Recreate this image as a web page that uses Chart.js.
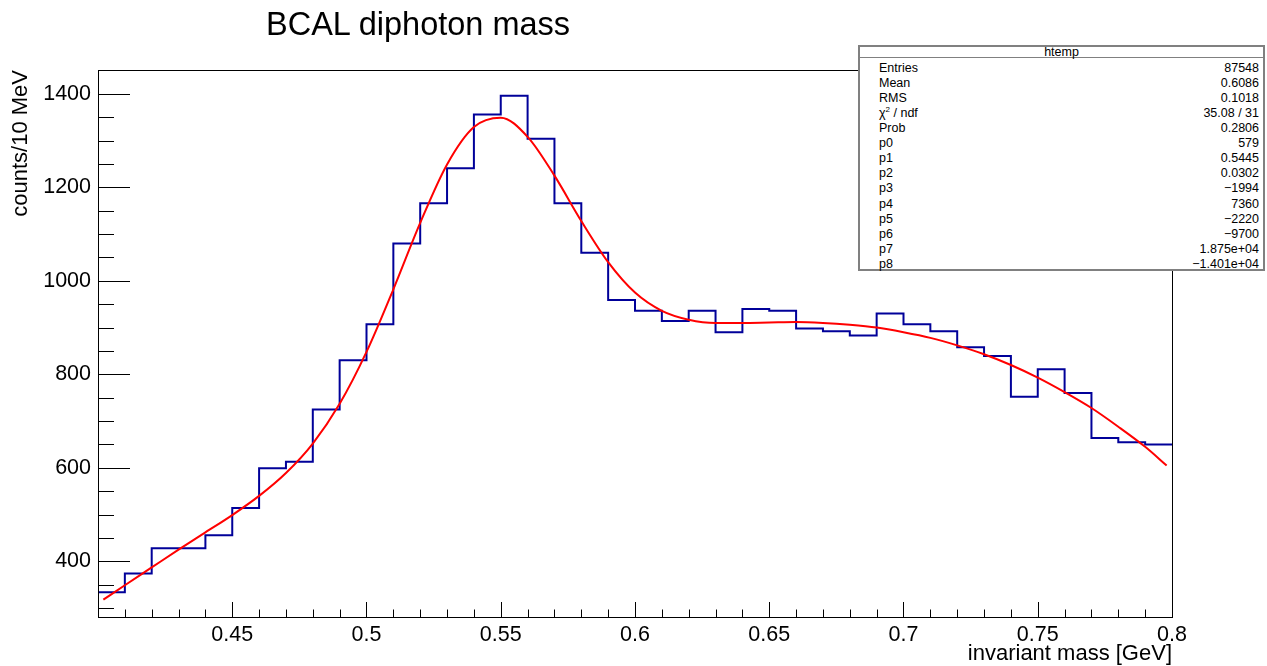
<!DOCTYPE html>
<html lang="en">
<head>
    <meta charset="UTF-8">
    <title>BCAL diphoton mass</title>
    <script src="https://cdn.jsdelivr.net/npm/chart.js"></script>
    <style>
        html, body { margin: 0; padding: 0; background: #fff; }
        body {
            position: relative; width: 1267px; height: 666px; overflow: hidden;
            font-family: 'Liberation Sans', Arial, Helvetica, sans-serif; color: #000;
        }
        #plot { position: absolute; left: 0; top: 0; }
        #title {
            position: absolute; left: 266px; top: 6px;
            font-size: 32.5px; line-height: 36px; white-space: nowrap;
        }
        #stats {
            position: absolute; left: 858px; top: 45px; width: 403px; height: 222px;
            background: #fff; border: 2px solid #808080; font-size: 12.5px;
        }
        #stats .head {
            height: 10px; line-height: 10px; text-align: center;
            border-bottom: 1px solid #808080; margin-bottom: 2.7px;
        }
        #stats .row {
            display: flex; justify-content: space-between;
            height: 15.1px; line-height: 15.1px; padding: 0 4px 0 19px;
        }
        #stats sup { font-size: 8px; line-height: 0; vertical-align: 5px; }
    </style>
</head>
<body>
    <canvas id="plot" width="1267" height="666"></canvas>
    <div id="title">BCAL diphoton mass</div>
    <div id="stats">
        <div class="head">htemp</div>
        <div class="row"><span>Entries</span><span>87548</span></div>
        <div class="row"><span>Mean</span><span>0.6086</span></div>
        <div class="row"><span>RMS</span><span>0.1018</span></div>
        <div class="row"><span>&chi;<sup>2</sup> / ndf</span><span>35.08 / 31</span></div>
        <div class="row"><span>Prob</span><span>0.2806</span></div>
        <div class="row"><span>p0</span><span>579</span></div>
        <div class="row"><span>p1</span><span>0.5445</span></div>
        <div class="row"><span>p2</span><span>0.0302</span></div>
        <div class="row"><span>p3</span><span>&minus;1994</span></div>
        <div class="row"><span>p4</span><span>7360</span></div>
        <div class="row"><span>p5</span><span>&minus;2220</span></div>
        <div class="row"><span>p6</span><span>&minus;9700</span></div>
        <div class="row"><span>p7</span><span>1.875e+04</span></div>
        <div class="row"><span>p8</span><span>&minus;1.401e+04</span></div>
    </div>

    <script>
        // histogram: lower bin edges (10 MeV bins) and counts per bin
        const binLowEdges = [0.40, 0.41, 0.42, 0.43, 0.44, 0.45, 0.46, 0.47, 0.48, 0.49,
                             0.50, 0.51, 0.52, 0.53, 0.54, 0.55, 0.56, 0.57, 0.58, 0.59,
                             0.60, 0.61, 0.62, 0.63, 0.64, 0.65, 0.66, 0.67, 0.68, 0.69,
                             0.70, 0.71, 0.72, 0.73, 0.74, 0.75, 0.76, 0.77, 0.78, 0.79];
        const lastBinUpEdge = 0.80;
        const counts = [334, 374, 428, 428, 456, 514, 599, 613, 725, 830,
                        907, 1080, 1166, 1241, 1356, 1396, 1304, 1166, 1060, 959,
                        936, 914, 936, 890, 940, 936, 898, 892, 883, 930,
                        907, 892, 858, 839, 752, 811, 760, 664, 655, 650];

        // fitted curve (gaus + pol5), sampled along the mass axis
        const fitMass = [0.402, 0.41, 0.42, 0.43, 0.44, 0.45, 0.46, 0.47, 0.48, 0.49,
                         0.50, 0.51, 0.52, 0.53, 0.54, 0.55, 0.56, 0.57, 0.58, 0.59,
                         0.60, 0.61, 0.62, 0.63, 0.64, 0.65, 0.66, 0.67, 0.68, 0.69,
                         0.70, 0.71, 0.72, 0.73, 0.74, 0.75, 0.76, 0.77, 0.78, 0.79, 0.798];
        const fitCounts = [318, 349, 387, 425, 462, 499, 540, 589, 652, 737,
                           848, 982, 1124, 1249, 1329, 1349, 1308, 1225, 1128, 1040,
                           975, 936, 917, 910, 910, 911, 912, 910, 906, 900,
                           890, 878, 862, 843, 820, 793, 762, 728, 688, 645, 605];

        const xTickValues = [0.45, 0.5, 0.55, 0.6, 0.65, 0.7, 0.75, 0.8];
        const xTickLabels = ['0.45', '0.5', '0.55', '0.6', '0.65', '0.7', '0.75', '0.8'];
        const yTickValues = [400, 600, 800, 1000, 1200, 1400];
        const yTickLabels = ['400', '600', '800', '1000', '1200', '1400'];

        const histPoints = binLowEdges.map((x, i) => ({ x: x, y: counts[i] }));
        histPoints.push({ x: lastBinUpEdge, y: counts[counts.length - 1] });
        const fitPoints = fitMass.map((x, i) => ({ x: x, y: fitCounts[i] }));

        const FONT = "'Liberation Sans', Arial, Helvetica, sans-serif";

        // frame box plus ROOT-style ticks pointing into the pad
        const framePlugin = {
            id: 'frame',
            afterDatasetsDraw(chart) {
                const { ctx, chartArea: a } = chart;
                const sx = chart.scales.x, sy = chart.scales.y;
                ctx.save();
                ctx.strokeStyle = '#000';
                ctx.lineWidth = 1;
                ctx.beginPath();
                for (let k = 40; k <= 80; k++) {
                    const px = Math.round(sx.getPixelForValue(k / 100)) + 0.5;
                    const len = k % 5 === 0 ? 15 : 7.5;
                    ctx.moveTo(px, a.bottom);
                    ctx.lineTo(px, a.bottom - len);
                }
                for (let v = 300; v <= 1450; v += 50) {
                    const py = Math.round(sy.getPixelForValue(v)) + 0.5;
                    const len = v % 200 === 0 ? 32 : 16;
                    ctx.moveTo(a.left, py);
                    ctx.lineTo(a.left + len, py);
                }
                ctx.stroke();
                ctx.strokeRect(Math.round(a.left) + 0.5, Math.round(a.top) + 0.5,
                               Math.round(a.right - a.left), Math.round(a.bottom - a.top));
                ctx.restore();
            }
        };

        new Chart(document.getElementById('plot'), {
            type: 'line',
            data: {
                datasets: [
                    {
                        label: 'fit',
                        data: fitPoints,
                        borderColor: '#ff0000',
                        borderWidth: 2,
                        pointRadius: 0,
                        cubicInterpolationMode: 'monotone',
                        fill: false
                    },
                    {
                        label: 'htemp',
                        data: histPoints,
                        borderColor: '#000099',
                        borderWidth: 2,
                        pointRadius: 0,
                        stepped: true,
                        fill: false
                    }
                ]
            },
            options: {
                responsive: false,
                animation: false,
                layout: { padding: { top: 70, right: 95, left: 0, bottom: 0 } },
                plugins: {
                    legend: { display: false },
                    tooltip: { enabled: false },
                    title: { display: false }
                },
                scales: {
                    x: {
                        type: 'linear',
                        min: 0.4,
                        max: 0.8,
                        afterBuildTicks: s => { s.ticks = xTickValues.map(v => ({ value: v })); },
                        afterFit: s => { s.height = 49; },
                        grid: { display: false, drawTicks: false },
                        border: { display: false },
                        ticks: {
                            autoSkip: false, maxRotation: 0, padding: 5, color: '#000',
                            font: { family: FONT, size: 21.5 },
                            callback: (v, i) => xTickLabels[i]
                        },
                        title: {
                            display: true, text: 'invariant mass [GeV]', align: 'end', color: '#000',
                            font: { family: FONT, size: 22, lineHeight: 1 }, padding: { top: 0, bottom: 1 }
                        }
                    },
                    y: {
                        min: 281,
                        max: 1451,
                        afterBuildTicks: s => { s.ticks = yTickValues.map(v => ({ value: v })); },
                        afterFit: s => { s.width = 98; },
                        grid: { display: false, drawTicks: false },
                        border: { display: false },
                        ticks: {
                            autoSkip: false, padding: 7, color: '#000',
                            font: { family: FONT, size: 21.5 },
                            callback: (v, i) => yTickLabels[i]
                        },
                        title: {
                            display: true, text: 'counts/10 MeV', align: 'end', color: '#000',
                            font: { family: FONT, size: 22 }, padding: { top: 8, bottom: 0 }
                        }
                    }
                }
            },
            plugins: [framePlugin]
        });
    </script>
</body>
</html>
